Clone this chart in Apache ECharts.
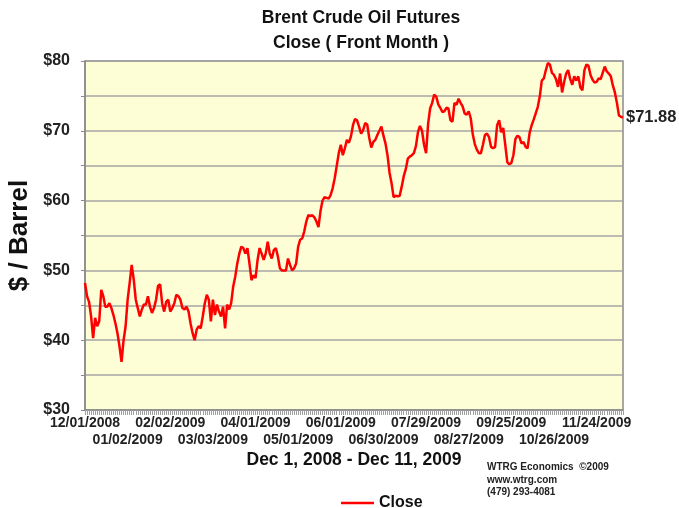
<!DOCTYPE html>
<html>
<head>
<meta charset="utf-8">
<script src="https://cdn.jsdelivr.net/npm/echarts@6/dist/echarts.min.js"></script>
<style>html,body{margin:0;padding:0;background:#fff}</style>
</head>
<body>
<div id="chart" style="width:679px;height:508px"></div>
<script>
// days the exchange was shut (weekends are dropped too)
var holidays = ['2008-12-25', '2008-12-26', '2009-01-01', '2009-04-10'];
var firstDay = '2008-12-01';
var lastDay = '2009-12-11';

var tickLabels = ['12/01/2008', '01/02/2009', '02/02/2009', '03/03/2009', '04/01/2009',
    '05/01/2009', '06/01/2009', '06/30/2009', '07/29/2009', '08/27/2009',
    '09/25/2009', '10/26/2009', '11/24/2009'];
var yLabels = [30, 40, 50, 60, 70, 80];

// daily close, $/bbl
var closePrices = [
    48.2, 46.3, 45.5, 43.4, 40.3, 43.2, 42.0, 42.7, 47.2, 46.3,
    44.8, 44.8, 45.3, 44.6, 43.6, 42.4, 41.0, 39.1, 36.9, 40.0,
    42.0, 45.8, 48.2, 50.8, 48.7, 45.8, 44.6, 43.4, 44.4, 45.1,
    45.1, 46.3, 44.8, 43.9, 44.6, 45.8, 47.8, 48.0, 45.3, 44.1,
    45.5, 45.8, 44.1, 44.6, 45.3, 46.5, 46.3, 45.8, 44.6, 44.4,
    44.8, 44.1, 42.4, 41.0, 40.0, 41.5, 42.0, 41.7, 43.4, 45.3,
    46.5, 45.8, 42.7, 45.8, 43.6, 45.1, 44.1, 43.4, 44.8, 41.7,
    45.1, 44.4, 45.3, 47.7, 49.1, 51.0, 52.4, 53.4, 53.2, 52.4,
    53.2, 51.0, 48.6, 49.3, 48.9, 51.5, 53.2, 52.4, 51.5, 52.4,
    54.1, 52.4, 51.7, 52.9, 53.2, 52.0, 50.3, 50.0, 50.0, 50.0,
    51.7, 50.8, 50.0, 50.3, 51.0, 53.4, 54.4, 54.6, 55.6, 57.0,
    57.9, 57.8, 57.9, 57.6, 57.0, 56.2, 58.5, 60.0, 60.5, 60.4,
    60.3, 60.8, 61.8, 63.2, 65.0, 66.8, 68.0, 66.5, 67.5, 68.7,
    68.3, 69.2, 70.8, 71.7, 71.5, 70.6, 69.6, 70.1, 71.1, 70.9,
    69.0, 67.6, 68.4, 68.7, 69.4, 70.0, 70.6, 69.3, 68.2, 66.5,
    64.0, 62.5, 60.5, 60.7, 60.6, 60.7, 62.0, 63.5, 64.5, 66.0,
    66.3, 66.5, 66.8, 67.8, 69.8, 70.7, 70.0, 68.0, 66.8, 71.0,
    73.2, 74.0, 75.2, 74.9, 73.8, 73.3, 72.7, 72.8, 73.3, 73.2,
    71.5, 71.3, 74.0, 73.7, 74.6, 74.0, 73.5, 72.5, 72.3, 72.8,
    71.8, 69.5, 68.1, 67.3, 66.8, 66.8, 68.0, 69.4, 69.6, 69.1,
    67.7, 67.5, 67.7, 70.8, 71.5, 69.8, 70.4, 68.0, 65.5, 65.2,
    65.4, 66.5, 68.8, 69.3, 69.1, 68.2, 68.4, 67.7, 67.5, 69.7,
    70.8, 71.6, 72.5, 73.4, 74.9, 77.2, 77.5, 78.7, 79.7, 79.5,
    78.3, 78.0, 77.4, 76.3, 78.2, 75.5, 77.0, 78.2, 78.7, 77.4,
    76.6, 77.8, 77.2, 77.8, 76.2, 75.8, 78.7, 79.5, 79.3, 78.0,
    77.3, 76.9, 77.0, 77.5, 77.4, 78.3, 79.2, 78.5, 78.2, 77.8,
    76.5, 75.5, 74.0, 72.2, 72.0, 71.88
];

function pad(n) { return n < 10 ? '0' + n : '' + n; }

// weekdays between two dates, minus holidays, as mm/dd/yyyy
function tradingDays(from, to, skip) {
    var out = [];
    var d = new Date(from + 'T00:00:00Z');
    var end = new Date(to + 'T00:00:00Z');
    while (d <= end) {
        var iso = d.toISOString().slice(0, 10);
        var wd = d.getUTCDay();
        if (wd !== 0 && wd !== 6 && skip.indexOf(iso) < 0) {
            out.push(pad(d.getUTCMonth() + 1) + '/' + pad(d.getUTCDate()) + '/' + d.getUTCFullYear());
        }
        d.setUTCDate(d.getUTCDate() + 1);
    }
    return out;
}

var dates = tradingDays(firstDay, lastDay, holidays);
var font = '"Liberation Sans", Arial, sans-serif';

// labels alternate between two rows: even ones on top, odd ones below
function rowLabel(row) {
    return function (i, v) {
        var k = tickLabels.indexOf(v);
        return k >= 0 && k % 2 === row;
    };
}
var labelStyle = {
    fontFamily: font,
    fontSize: 14,
    fontWeight: 'bold',
    color: '#222',
    margin: 6,
    showMinLabel: true,
    showMaxLabel: true,
    hideOverlap: false
};

var myChart = echarts.init(document.getElementById('chart'));
var option = {
    backgroundColor: '#ffffff',
    animation: false,
    textStyle: { fontFamily: font },
    title: {
        text: 'Brent Crude Oil Futures\nClose ( Front Month )',
        left: 356,
        top: 1,
        textAlign: 'center',
        textStyle: { fontFamily: font, fontSize: 17.5, fontWeight: 'bold', color: '#111', lineHeight: 25 }
    },
    legend: {
        data: ['Close'],
        left: 336,
        top: 490,
        icon: 'rect',
        itemWidth: 33,
        itemHeight: 2.5,
        itemGap: 9,
        textStyle: { fontFamily: font, fontSize: 16, fontWeight: 'bold', color: '#111' }
    },
    grid: {
        left: 85,
        right: 56,
        top: 61,
        bottom: 98,
        outerBoundsMode: 'none',
        show: true,
        backgroundColor: '#fefed6',
        borderColor: '#8a8a8a',
        borderWidth: 1.5
    },
    xAxis: [
        {
            type: 'category',
            boundaryGap: false,
            data: dates,
            name: 'Dec 1, 2008 - Dec 11, 2009',
            nameLocation: 'middle',
            nameGap: 41,
            nameTextStyle: { fontFamily: font, fontSize: 17.5, fontWeight: 'bold', color: '#111' },
            axisLine: { lineStyle: { color: '#8a8a8a', width: 1.5 } },
            axisTick: { show: true, interval: 0, length: 5, lineStyle: { color: '#a0a0a0' } },
            axisLabel: Object.assign({ interval: rowLabel(0) }, labelStyle),
            splitLine: { show: false }
        },
        {
            type: 'category',
            position: 'bottom',
            offset: 17,
            boundaryGap: false,
            data: dates,
            axisLine: { show: false },
            axisTick: { show: false },
            axisLabel: Object.assign({ interval: rowLabel(1) }, labelStyle),
            splitLine: { show: false }
        }
    ],
    yAxis: {
        type: 'value',
        min: 30,
        max: 80,
        interval: 5,
        name: '$ / Barrel',
        nameLocation: 'middle',
        nameGap: 44,
        nameTextStyle: { fontFamily: font, fontSize: 26, fontWeight: 'bold', color: '#111' },
        axisLine: { show: true, lineStyle: { color: '#8a8a8a', width: 1.5 } },
        axisTick: { show: true, length: 4, lineStyle: { color: '#8a8a8a' } },
        axisLabel: {
            formatter: function (v) { return yLabels.indexOf(v) >= 0 ? '$' + v : ''; },
            fontFamily: font,
            fontSize: 16,
            fontWeight: 'bold',
            color: '#222',
            margin: 15
        },
        splitLine: { show: true, lineStyle: { color: '#a4a4a4', width: 1.5 } }
    },
    graphic: [
        {
            type: 'text',
            left: 552 - 65,
            top: 461,
            style: {
                text: 'WTRG Economics  \u00a92009\nwww.wtrg.com\n(479) 293-4081',
                width: 130,
                align: 'center',
                fontFamily: font,
                fontSize: 10,
                fontWeight: 'bold',
                fill: '#222',
                lineHeight: 12.5
            }
        }
    ],
    series: [
        {
            name: 'Close',
            type: 'line',
            xAxisIndex: 0,
            data: closePrices,
            symbol: 'none',
            lineStyle: { color: '#ff0000', width: 2.5 },
            itemStyle: { color: '#ff0000' },
            endLabel: {
                show: true,
                formatter: function (p) { return '$' + p.value.toFixed(2); },
                fontFamily: font,
                fontSize: 16.5,
                fontWeight: 'bold',
                color: '#222',
                distance: 3
            }
        }
    ]
};
myChart.setOption(option);
</script>
</body>
</html>
